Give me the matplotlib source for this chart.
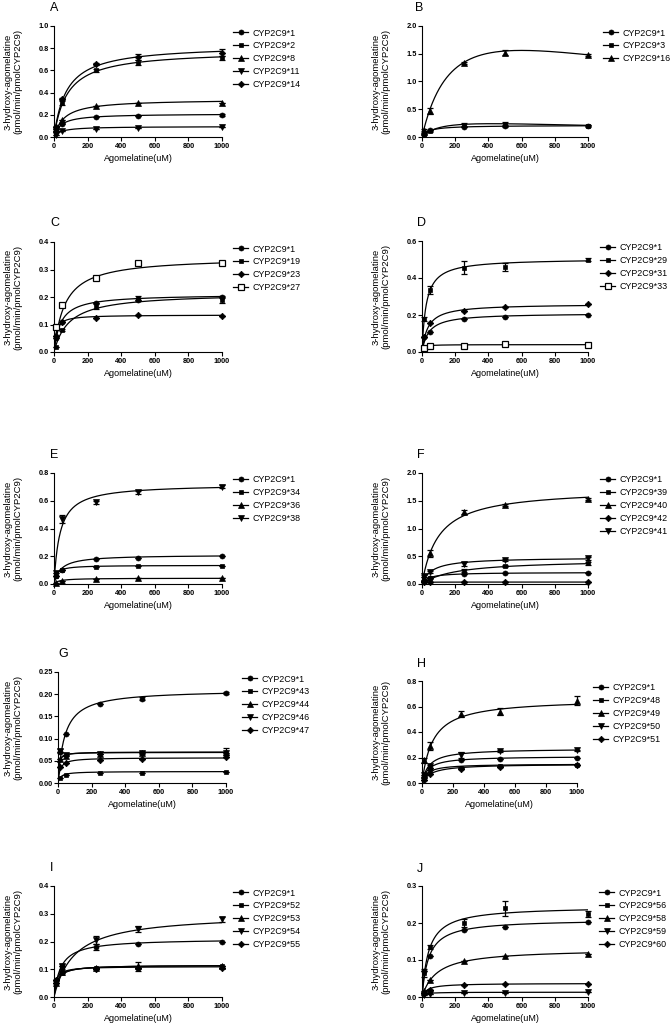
import numpy as np
import matplotlib.pyplot as plt
from matplotlib.lines import Line2D
from matplotlib.ticker import FormatStrFormatter

plt.rcParams["font.family"] = ["Liberation Sans", "DejaVu Sans"]
plt.rcParams["font.weight"] = "bold"

W, H = 671, 1028
INF = float("inf")

# substrate concentrations (uM)
conc = [10, 50, 250, 500, 1000]

# ---- panel A
a_names = ["CYP2C9*1", "CYP2C9*2", "CYP2C9*8", "CYP2C9*11", "CYP2C9*14"]
a_mean = [[0.05, 0.12, 0.18, 0.19, 0.20],
          [0.08, 0.31, 0.60, 0.67, 0.71],
          [0.07, 0.15, 0.28, 0.31, 0.31],
          [0.02, 0.055, 0.075, 0.085, 0.09],
          [0.09, 0.34, 0.66, 0.72, 0.76]]
a_sd = [[0, 0, 0, 0, 0.01],
        [0.01, 0.02, 0.01, 0.02, 0.02],
        [0, 0, 0, 0, 0],
        [0, 0, 0, 0, 0],
        [0.01, 0.015, 0.01, 0.025, 0.03]]
a_vmax = [0.21, 0.78, 0.34, 0.095, 0.83]
a_km = [40, 80, 60, 40, 75]
a_ki = [INF, INF, INF, INF, INF]

# ---- panel B
b_names = ["CYP2C9*1", "CYP2C9*3", "CYP2C9*16"]
b_mean = [[0.05, 0.12, 0.18, 0.19, 0.20],
          [0.04, 0.10, 0.22, 0.24, 0.20],
          [0.12, 0.47, 1.33, 1.52, 1.48]]
b_sd = [[0, 0, 0, 0.01, 0.01],
        [0, 0.01, 0.03, 0.03, 0.02],
        [0.02, 0.06, 0.02, 0.05, 0.02]]
b_vmax = [0.21, 0.375, 2.6]
b_km = [40, 120, 200]
b_ki = [INF, 1500, 1800]

# ---- panel C
c_names = ["CYP2C9*1", "CYP2C9*19", "CYP2C9*23", "CYP2C9*27"]
c_mean = [[0.05, 0.11, 0.18, 0.19, 0.20],
          [0.02, 0.08, 0.165, 0.195, 0.19],
          [0.06, 0.11, 0.125, 0.135, 0.13],
          [0.09, 0.17, 0.27, 0.325, 0.325]]
c_sd = [[0, 0, 0, 0, 0.005],
        [0, 0.005, 0.01, 0.01, 0.01],
        [0, 0, 0, 0, 0],
        [0, 0, 0.005, 0.005, 0]]
c_vmax = [0.21, 0.215, 0.135, 0.345]
c_km = [40, 90, 12, 65]
c_ki = [INF, INF, INF, INF]

# ---- panel D
d_names = ["CYP2C9*1", "CYP2C9*29", "CYP2C9*31", "CYP2C9*33"]
d_mean = [[0.08, 0.11, 0.18, 0.19, 0.20],
          [0.18, 0.335, 0.455, 0.46, 0.50],
          [0.08, 0.155, 0.22, 0.245, 0.26],
          [0.02, 0.03, 0.035, 0.042, 0.038]]
d_sd = [[0, 0, 0, 0, 0],
        [0.01, 0.02, 0.035, 0.02, 0.01],
        [0, 0, 0, 0, 0],
        [0, 0, 0, 0, 0]]
d_vmax = [0.21, 0.505, 0.26, 0.04]
d_km = [40, 25, 35, 8]
d_ki = [INF, INF, INF, INF]

# ---- panel E
e_names = ["CYP2C9*1", "CYP2C9*34", "CYP2C9*36", "CYP2C9*38"]
e_mean = [[0.06, 0.10, 0.18, 0.19, 0.20],
          [0.06, 0.10, 0.12, 0.13, 0.13],
          [0.01, 0.025, 0.035, 0.04, 0.04],
          [0.08, 0.47, 0.59, 0.66, 0.70]]
e_sd = [[0, 0, 0, 0, 0],
        [0, 0, 0, 0, 0],
        [0, 0, 0, 0, 0],
        [0, 0.03, 0.01, 0.01, 0.01]]
e_vmax = [0.21, 0.135, 0.042, 0.72]
e_km = [40, 15, 30, 35]
e_ki = [INF, INF, INF, INF]

# ---- panel F
f_names = ["CYP2C9*1", "CYP2C9*39", "CYP2C9*40", "CYP2C9*42", "CYP2C9*41"]
f_mean = [[0.05, 0.10, 0.18, 0.19, 0.20],
          [0.03, 0.10, 0.24, 0.32, 0.37],
          [0.10, 0.55, 1.30, 1.43, 1.53],
          [0.03, 0.03, 0.03, 0.03, 0.035],
          [0.15, 0.21, 0.36, 0.43, 0.46]]
f_sd = [[0, 0, 0, 0, 0],
        [0, 0.01, 0.03, 0.02, 0.02],
        [0.02, 0.06, 0.03, 0.02, 0.02],
        [0, 0, 0, 0, 0],
        [0.02, 0.02, 0.04, 0.02, 0.02]]
f_vmax = [0.21, 0.44, 1.72, 0.035, 0.48]
f_km = [40, 200, 100, 5, 60]
f_ki = [INF, INF, INF, INF, INF]

# ---- panel G
g_names = ["CYP2C9*1", "CYP2C9*43", "CYP2C9*44", "CYP2C9*46", "CYP2C9*47"]
g_mean = [[0.07, 0.11, 0.178, 0.19, 0.203],
          [0.012, 0.017, 0.022, 0.023, 0.025],
          [0.055, 0.06, 0.065, 0.068, 0.07],
          [0.072, 0.062, 0.065, 0.067, 0.068],
          [0.035, 0.045, 0.052, 0.054, 0.058]]
g_sd = [[0, 0, 0, 0.004, 0.002],
        [0, 0, 0, 0, 0],
        [0, 0, 0, 0.003, 0.008],
        [0.004, 0, 0, 0, 0],
        [0, 0, 0, 0, 0]]
g_vmax = [0.21, 0.026, 0.07, 0.069, 0.057]
g_km = [40, 15, 5, 4, 12]
g_ki = [INF, INF, INF, INF, INF]

# ---- panel H
h_names = ["CYP2C9*1", "CYP2C9*48", "CYP2C9*49", "CYP2C9*50", "CYP2C9*51"]
h_mean = [[0.05, 0.12, 0.18, 0.19, 0.20],
          [0.04, 0.10, 0.12, 0.135, 0.145],
          [0.18, 0.29, 0.54, 0.56, 0.645],
          [0.06, 0.13, 0.22, 0.25, 0.255],
          [0.02, 0.07, 0.11, 0.125, 0.14]]
h_sd = [[0, 0, 0, 0, 0],
        [0, 0, 0, 0, 0],
        [0.02, 0.03, 0.025, 0.03, 0.035],
        [0, 0.01, 0.02, 0.01, 0.005],
        [0, 0, 0, 0, 0]]
h_vmax = [0.21, 0.15, 0.66, 0.27, 0.15]
h_km = [40, 35, 70, 45, 60]
h_ki = [INF, INF, INF, INF, INF]

# ---- panel I
i_names = ["CYP2C9*1", "CYP2C9*52", "CYP2C9*53", "CYP2C9*54", "CYP2C9*55"]
i_mean = [[0.05, 0.11, 0.18, 0.19, 0.20],
          [0.06, 0.085, 0.105, 0.105, 0.11],
          [0.05, 0.09, 0.105, 0.11, 0.11],
          [0.05, 0.11, 0.205, 0.245, 0.28],
          [0.06, 0.095, 0.10, 0.105, 0.105]]
i_sd = [[0, 0, 0.01, 0, 0],
        [0, 0, 0, 0, 0],
        [0, 0, 0, 0.015, 0],
        [0, 0.01, 0.015, 0.01, 0.01],
        [0, 0, 0, 0, 0]]
i_vmax = [0.21, 0.115, 0.115, 0.30, 0.11]
i_km = [40, 20, 20, 120, 12]
i_ki = [INF, INF, INF, INF, INF]

# ---- panel J
j_names = ["CYP2C9*1", "CYP2C9*56", "CYP2C9*58", "CYP2C9*59", "CYP2C9*60"]
j_mean = [[0.07, 0.11, 0.18, 0.19, 0.203],
          [0.065, 0.135, 0.20, 0.24, 0.225],
          [0.015, 0.045, 0.097, 0.11, 0.116],
          [0.005, 0.008, 0.01, 0.012, 0.013],
          [0.012, 0.02, 0.032, 0.035, 0.035]]
j_sd = [[0, 0, 0, 0, 0],
        [0.01, 0.005, 0.01, 0.02, 0.008],
        [0, 0, 0, 0, 0],
        [0, 0, 0, 0, 0],
        [0, 0, 0, 0, 0]]
j_vmax = [0.21, 0.245, 0.13, 0.013, 0.037]
j_km = [40, 40, 90, 15, 30]
j_ki = [INF, INF, INF, INF, INF]

# marker style per series (o circle, s square, ^/v triangles, D diamond, S open square)
MARKERS = {
    "A": ["o", "s", "^", "v", "D"],
    "B": ["o", "s", "^"],
    "C": ["o", "s", "D", "S"],
    "D": ["o", "s", "D", "S"],
    "E": ["o", "s", "^", "v"],
    "F": ["o", "s", "^", "D", "v"],
    "G": ["o", "s", "^", "v", "D"],
    "H": ["o", "s", "^", "v", "D"],
    "I": ["o", "s", "^", "v", "D"],
    "J": ["o", "s", "^", "v", "D"],
}


def marker_kw(m):
    if m == "S":
        return dict(marker="s", ms=5.0, mfc="white", mec="black", mew=0.9)
    size = {"o": 3.6, "s": 3.5, "^": 4.2, "v": 4.2, "D": 3.3}[m]
    return dict(marker=m, ms=size, mfc="black", mec="black", mew=0.5)


fig = plt.figure(figsize=(W / 100, H / 100), dpi=100)


def panel(letter, box, letter_xy, leg_dx, ymax, ystep, yfmt,
          names, means, sds, vmax, km, ki):
    l, t, r, b = box
    ax = fig.add_axes([l / W, 1 - b / H, (r - l) / W, (b - t) / H])
    s = np.linspace(0, 1000, 500)
    handles = []
    for k, name in enumerate(names):
        kw = marker_kw(MARKERS[letter][k])
        v = vmax[k] * s / (km[k] + s + s ** 2 / ki[k])
        ax.plot(s, v, color="black", lw=0.9, zorder=2)
        ax.errorbar(conc, means[k], yerr=sds[k], fmt="none", ecolor="black",
                    elinewidth=0.9, capsize=2, capthick=0.9, zorder=3,
                    clip_on=False)
        ax.plot(conc, means[k], ls="none", zorder=4, clip_on=False, **kw)
        handles.append(Line2D([], [], color="black", lw=0.9, **kw))

    ax.set_xlim(0, 1000)
    ax.set_ylim(0, ymax)
    ax.set_xticks(np.arange(0, 1001, 200))
    ax.set_yticks(np.arange(0, ymax + ystep / 2, ystep))
    ax.yaxis.set_major_formatter(FormatStrFormatter(yfmt))
    for side in ("top", "right"):
        ax.spines[side].set_visible(False)
    for side in ("left", "bottom"):
        ax.spines[side].set_linewidth(0.8)
    ax.tick_params(direction="out", length=3, width=0.8, labelsize=5.3)
    ax.tick_params(axis="y", pad=0.8)
    ax.tick_params(axis="x", pad=1.5)

    ax.set_xlabel("Agomelatine(uM)", fontsize=6.5, labelpad=3)
    ax.set_ylabel("3-hydroxy-agomelatine\n(pmol/min/pmolCYP2C9)",
                  fontsize=6.8, linespacing=1.0)
    lab_x = 22 if l < 300 else 390
    ax.yaxis.set_label_coords((lab_x - l) / (r - l), 0.5)

    fig.text(letter_xy[0] / W, 1 - letter_xy[1] / H, letter,
             fontsize=9, fontweight="normal", ha="left", va="center")

    ax.legend(handles, names, loc="upper left",
              bbox_to_anchor=((r + leg_dx) / W, 1 - (t + 2.5) / H),
              bbox_transform=fig.transFigure, frameon=False,
              prop={"size": 6.4, "weight": "normal"},
              handlelength=1.7, handletextpad=0.45, labelspacing=0.43,
              borderpad=0, borderaxespad=0)
    return ax


panel("A", (54, 26, 222, 137), (50, 8), 11, 1.0, 0.2, "%.1f",
      a_names, a_mean, a_sd, a_vmax, a_km, a_ki)
panel("B", (422, 26, 588, 137), (415, 8), 15, 2.0, 0.5, "%.1f",
      b_names, b_mean, b_sd, b_vmax, b_km, b_ki)
panel("C", (54, 242, 222, 352), (50, 223), 11, 0.4, 0.1, "%.1f",
      c_names, c_mean, c_sd, c_vmax, c_km, c_ki)
panel("D", (422, 241, 588, 352), (417, 223), 12, 0.6, 0.2, "%.1f",
      d_names, d_mean, d_sd, d_vmax, d_km, d_ki)
panel("E", (54, 473, 222, 584), (50, 455), 11, 0.8, 0.2, "%.1f",
      e_names, e_mean, e_sd, e_vmax, e_km, e_ki)
panel("F", (422, 473, 588, 584), (417, 455), 12, 2.0, 0.5, "%.1f",
      f_names, f_mean, f_sd, f_vmax, f_km, f_ki)
panel("G", (58, 672, 226, 783), (58, 654), 16, 0.25, 0.05, "%.2f",
      g_names, g_mean, g_sd, g_vmax, g_km, g_ki)
panel("H", (422, 681, 577, 783), (417, 664), 16, 0.8, 0.2, "%.1f",
      h_names, h_mean, h_sd, h_vmax, h_km, h_ki)
panel("I", (54, 886, 222, 997), (50, 868), 11, 0.4, 0.1, "%.1f",
      i_names, i_mean, i_sd, i_vmax, i_km, i_ki)
panel("J", (422, 886, 588, 997), (417, 869), 11, 0.3, 0.1, "%.1f",
      j_names, j_mean, j_sd, j_vmax, j_km, j_ki)

fig.savefig("out.png", dpi=100)
